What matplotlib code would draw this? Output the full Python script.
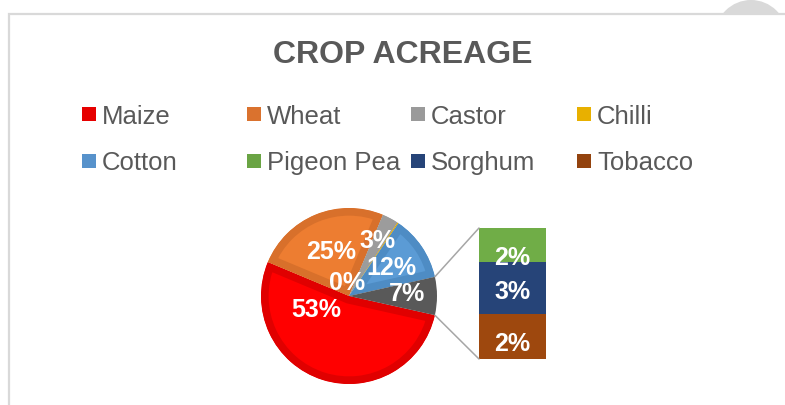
import numpy as np
import matplotlib
matplotlib.use("Agg")
import matplotlib.pyplot as plt
from matplotlib.patches import Rectangle, Circle, ConnectionPatch

# ---------------- data ----------------
title = "CROP ACREAGE"
pie_categories = ["Maize", "Wheat", "Castor", "Chilli", "Cotton"]
pie_values = [52.8, 25.0, 3.0, 0.2, 12.0]          # % of acreage
bar_categories = ["Pigeon Pea", "Sorghum", "Tobacco"]  # top -> bottom in the bar
bar_values = [1.8, 2.8, 2.4]                         # % of acreage
legend_order = ["Maize", "Wheat", "Castor", "Chilli",
                "Cotton", "Pigeon Pea", "Sorghum", "Tobacco"]

# ---------------- styles ----------------
face = {"Maize": "#FF0000", "Wheat": "#ED7D31", "Castor": "#A5A5A5",
        "Chilli": "#FFC000", "Cotton": "#5B9BD5", "Pigeon Pea": "#70AD47",
        "Sorghum": "#264478", "Tobacco": "#9E480E"}
ring = {"Maize": "#E00000", "Wheat": "#D8702B", "Castor": "#9C9C9C",
        "Chilli": "#E6AC00", "Cotton": "#4E8CC4"}
legend_col = {"Maize": "#E60000", "Wheat": "#DA722E", "Castor": "#9A9A9A",
              "Chilli": "#E8B000", "Cotton": "#5792CB", "Pigeon Pea": "#6AA444",
              "Sorghum": "#264478", "Tobacco": "#93430E"}
other_color = "#595959"
text_gray = "#595959"
FONT = "Liberation Sans"

W, H = 785, 405
fig = plt.figure(figsize=(W / 100, H / 100), dpi=100)
fig.patch.set_facecolor("white")

# background / frame axes in pixel coordinates
bg = fig.add_axes([0, 0, 1, 1])
bg.set_xlim(0, W)
bg.set_ylim(H, 0)
bg.axis("off")
bg.add_patch(Circle((751, 36), 36, facecolor="#D9D9D9", edgecolor="none", zorder=1))
bg.add_patch(Rectangle((9, 14), W + 20, H, facecolor="white",
                       edgecolor="#D9D9D9", lw=1.6, zorder=2))

bg.text(403, 63, title, ha="center", va="baseline", fontsize=23,
        fontweight="bold", color=text_gray, family=FONT, zorder=3)

# legend (2 rows x 4 columns)
col_x = [82, 247, 411, 577]
row_y = [114, 160.5]
for i, cat in enumerate(legend_order):
    r, c = divmod(i, 4)
    x, y = col_x[c], row_y[r]
    bg.add_patch(Rectangle((x, y - 7), 14, 14, facecolor=legend_col[cat],
                           edgecolor="none", zorder=3))
    bg.text(x + 20, y + 9.5, cat, ha="left", va="baseline", fontsize=18.5,
            color=text_gray, family=FONT, zorder=3)

# ---------------- pie ----------------
cx, cy, R = 349, 296, 88
ax = fig.add_axes([(cx - R) / W, (H - cy - R) / H, 2 * R / W, 2 * R / H])
other = sum(bar_values)
vals = pie_values + [other]
total = sum(vals)
other_deg = 360 * other / total
cols = [face[c] for c in pie_categories] + [other_color]
wedges, _ = ax.pie(vals, colors=cols, startangle=-other_deg / 2,
                   counterclock=False, radius=1,
                   wedgeprops=dict(linewidth=0))
for w, cat in zip(wedges, pie_categories):
    w.set_edgecolor(ring[cat])
    w.set_linewidth(11)
    w.set_joinstyle("miter")
    w.set_clip_on(True)
    w.set_clip_path(w)
ax.set_xlim(-1, 1)
ax.set_ylim(-1, 1)
ax.axis("off")

pie_label_pos = [(-0.375, -0.16), (-0.205, 0.50), (0.33, 0.625),
                 (-0.02, 0.15), (0.48, 0.32), (0.66, 0.02)]
for v, (lx, ly) in zip(vals, pie_label_pos):
    ax.text(lx, ly, f"{round(100 * v / total):.0f}%", ha="center", va="center",
            fontsize=18, fontweight="bold", color="white", family=FONT)

# ---------------- bar of pie ----------------
bx0, by0, bx1, by1 = 479, 228, 546, 359
bax = fig.add_axes([bx0 / W, (H - by1) / H, (bx1 - bx0) / W, (by1 - by0) / H])
bottom = other
label_offsets = [-0.7, -0.22, -0.4]
for cat, v, off in zip(bar_categories, bar_values, label_offsets):
    bottom -= v
    bax.bar(0, v, bottom=bottom, width=1, color=face[cat], linewidth=0)
    bax.text(0, bottom + v / 2 + off, f"{round(100 * v / total):.0f}%",
             ha="center", va="center", fontsize=18, fontweight="bold",
             color="white", family=FONT)
bax.set_xlim(-0.5, 0.5)
bax.set_ylim(0, other)
bax.axis("off")

# connector lines
th = np.radians(other_deg / 2)
for sgn, yb in [(1, other), (-1, 0)]:
    con = ConnectionPatch(xyA=(np.cos(th), sgn * np.sin(th)), coordsA=ax.transData,
                          xyB=(-0.5, yb), coordsB=bax.transData,
                          color="#A6A6A6", lw=1.1)
    fig.add_artist(con)

fig.savefig("out.png", dpi=100, facecolor="white")
